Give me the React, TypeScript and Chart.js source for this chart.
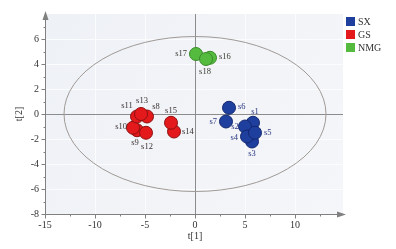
import React, { useEffect, useRef } from "react";
import { Chart, registerables } from "chart.js";

Chart.register(...registerables);

// ---- data ----
const sxNames = ["s1", "s2", "s3", "s4", "s5", "s6", "s7"];
const sxX = [5.8, 5.0, 5.7, 5.2, 6.0, 3.4, 3.1];
const sxY = [-0.7, -1.0, -2.2, -1.8, -1.5, 0.5, -0.6];

const gsNames = ["s8", "s9", "s10", "s11", "s12", "s13", "s14", "s15"];
const gsX = [-4.8, -5.8, -6.2, -5.8, -4.9, -5.4, -2.1, -2.4];
const gsY = [-0.2, -1.3, -1.1, -0.2, -1.5, 0.0, -1.4, -0.7];

const nmgNames = ["s16", "s17", "s18"];
const nmgX = [1.5, 0.1, 1.1];
const nmgY = [4.5, 4.8, 4.4];

const xTicks = [-15, -10, -5, 0, 5, 10];
const yTicks = [-8, -6, -4, -2, 0, 2, 4, 6];

const ellipseRx = 13.1;
const ellipseRy = 6.2;

// label offsets (px) per point name — style only
const labelOffset: Record<string, [number, number, CanvasTextAlign]> = {
  s1: [2, -11, "center"],
  s2: [-10, 0, "center"],
  s3: [0, 12, "center"],
  s4: [-9, 1, "right"],
  s5: [9, 0, "left"],
  s6: [9, -1, "left"],
  s7: [-9, 0, "right"],
  s8: [9, -10, "center"],
  s9: [-2, 13, "center"],
  s10: [-6, -1, "right"],
  s11: [-10, -11, "center"],
  s12: [1, 14, "center"],
  s13: [1, -13, "center"],
  s14: [8, 0, "left"],
  s15: [0, -12, "center"],
  s16: [9, -1, "left"],
  s17: [-9, 0, "right"],
  s18: [-1, 13, "center"],
};

const FONT = "'Liberation Serif', 'Times New Roman', serif";

const toPts = (xs: number[], ys: number[]) => xs.map((x, i) => ({ x, y: ys[i] }));

const bgPlugin = {
  id: "bgPlugin",
  beforeDatasetsDraw(chart: any) {
    const { ctx, chartArea: a, scales } = chart;
    const xs = scales.x;
    const ys = scales.y;
    ctx.save();
    const g = ctx.createLinearGradient(a.left, a.top, a.right, a.bottom);
    g.addColorStop(0, "#eef1f6");
    g.addColorStop(1, "#f5f6f9");
    ctx.fillStyle = g;
    ctx.fillRect(a.left, a.top, a.right - a.left, a.bottom - a.top);
    // grid
    ctx.strokeStyle = "#fbfcfd";
    ctx.lineWidth = 1;
    xTicks.forEach((v) => {
      if (v === 0 || v === -15) return;
      const px = Math.round(xs.getPixelForValue(v)) + 0.5;
      ctx.beginPath();
      ctx.moveTo(px, a.top);
      ctx.lineTo(px, a.bottom);
      ctx.stroke();
    });
    yTicks.forEach((v) => {
      if (v === 0 || v === -8) return;
      const py = Math.round(ys.getPixelForValue(v)) + 0.5;
      ctx.beginPath();
      ctx.moveTo(a.left, py);
      ctx.lineTo(a.right, py);
      ctx.stroke();
    });
    // zero lines
    ctx.strokeStyle = "#8c8c8c";
    const x0 = Math.round(xs.getPixelForValue(0)) + 0.5;
    const y0 = Math.round(ys.getPixelForValue(0)) + 0.5;
    ctx.beginPath();
    ctx.moveTo(x0, a.top);
    ctx.lineTo(x0, a.bottom);
    ctx.moveTo(a.left, y0);
    ctx.lineTo(a.right, y0);
    ctx.stroke();
    // ellipse
    const rx = xs.getPixelForValue(ellipseRx) - xs.getPixelForValue(0);
    const ry = ys.getPixelForValue(0) - ys.getPixelForValue(ellipseRy);
    ctx.strokeStyle = "#a09a96";
    ctx.beginPath();
    ctx.ellipse(xs.getPixelForValue(0), ys.getPixelForValue(0), rx, ry, 0, 0, Math.PI * 2);
    ctx.stroke();
    // axes with arrows
    ctx.strokeStyle = "#808080";
    ctx.fillStyle = "#808080";
    const L = Math.round(a.left) + 0.5;
    const B = Math.round(a.bottom) + 0.5;
    ctx.beginPath();
    ctx.moveTo(L, B);
    ctx.lineTo(L, a.top - 1);
    ctx.moveTo(L, B);
    ctx.lineTo(a.right + 1, B);
    ctx.stroke();
    ctx.beginPath();
    ctx.moveTo(L, a.top - 3);
    ctx.lineTo(L - 3, a.top + 6);
    ctx.lineTo(L + 3, a.top + 6);
    ctx.closePath();
    ctx.fill();
    ctx.beginPath();
    ctx.moveTo(a.right + 3, B);
    ctx.lineTo(a.right - 6, B - 3);
    ctx.lineTo(a.right - 6, B + 3);
    ctx.closePath();
    ctx.fill();
    // tick marks
    ctx.strokeStyle = "#808080";
    for (let v = -8; v <= 7; v++) {
      const py = Math.round(ys.getPixelForValue(v)) + 0.5;
      const len = v % 2 === 0 ? 4 : 2;
      ctx.beginPath();
      ctx.moveTo(L - len, py);
      ctx.lineTo(L, py);
      ctx.stroke();
    }
    for (let v = -15; v <= 12.5; v += 2.5) {
      const px = Math.round(xs.getPixelForValue(v)) + 0.5;
      const len = v % 5 === 0 ? 4 : 2;
      ctx.beginPath();
      ctx.moveTo(px, B);
      ctx.lineTo(px, B + len);
      ctx.stroke();
    }
    ctx.restore();
  },
  afterDatasetsDraw(chart: any) {
    const { ctx } = chart;
    ctx.save();
    ctx.font = `8.5px ${FONT}`;
    ctx.textBaseline = "middle";
    chart.data.datasets.forEach((ds: any, di: number) => {
      const meta = chart.getDatasetMeta(di);
      meta.data.forEach((el: any, i: number) => {
        const name = ds.names[i];
        const off = labelOffset[name] || [8, 0, "left"];
        ctx.fillStyle = ds.labelColor;
        ctx.textAlign = off[2];
        ctx.fillText(name, el.x + off[0], el.y + off[1]);
      });
    });
    // legend
    const a = chart.chartArea;
    const lx = a.right + 3;
    let ly = 17;
    ctx.font = `10px ${FONT}`;
    ctx.textAlign = "left";
    chart.data.datasets.forEach((ds: any) => {
      ctx.fillStyle = ds.backgroundColor;
      ctx.fillRect(lx, ly, 9, 9);
      ctx.fillStyle = "#333";
      ctx.fillText(ds.label, lx + 12, ly + 5);
      ly += 13;
    });
    // axis titles
    ctx.font = `10px ${FONT}`;
    ctx.fillStyle = "#333";
    ctx.textAlign = "center";
    ctx.fillText("t[1]", chart.scales.x.getPixelForValue(0), 236);
    ctx.translate(19, chart.scales.y.getPixelForValue(0));
    ctx.rotate(-Math.PI / 2);
    ctx.fillText("t[2]", 0, 0);
    ctx.restore();
  },
};

export default function App() {
  const ref = useRef<HTMLCanvasElement | null>(null);
  useEffect(() => {
    if (!ref.current) return;
    const mk = (label: string, names: string[], xs: number[], ys: number[], fill: string, border: string, labelColor: string) => ({
      label,
      names,
      labelColor,
      data: toPts(xs, ys),
      backgroundColor: fill,
      borderColor: border,
      borderWidth: 1,
      pointRadius: 6.5,
    });
    const chart = new Chart(ref.current, {
      type: "scatter",
      data: {
        datasets: [
          mk("SX", sxNames, sxX, sxY, "#1f3f9f", "#13276e", "#2a3580"),
          mk("GS", gsNames, gsX, gsY, "#e3191c", "#8e1010", "#3a3030"),
          mk("NMG", nmgNames, nmgX, nmgY, "#55bb3e", "#3a8a2a", "#3a3a30"),
        ] as any,
      },
      options: {
        animation: false,
        responsive: true,
        maintainAspectRatio: false,
        layout: { padding: { left: 0, right: 53, top: 14, bottom: 0 } },
        plugins: { legend: { display: false }, tooltip: { enabled: false } },
        scales: {
          x: {
            type: "linear",
            min: -15,
            max: 14.8,
            afterFit: (s: any) => {
              s.height = 35;
            },
            afterBuildTicks: (s: any) => {
              s.ticks = xTicks.map((v) => ({ value: v }));
            },
            grid: { display: false, drawTicks: false },
            border: { display: false },
            ticks: { padding: 5, color: "#333", font: { family: FONT, size: 10 }, maxRotation: 0 },
          },
          y: {
            type: "linear",
            min: -8,
            max: 8,
            afterFit: (s: any) => {
              s.width = 45;
            },
            afterBuildTicks: (s: any) => {
              s.ticks = yTicks.map((v) => ({ value: v }));
            },
            grid: { display: false, drawTicks: false },
            border: { display: false },
            ticks: { padding: 6, color: "#333", font: { family: FONT, size: 10 } },
          },
        },
      },
      plugins: [bgPlugin],
    });
    return () => chart.destroy();
  }, []);
  return (
    <div style={{ position: "fixed", left: 0, top: 0, width: 396, height: 249, background: "#fff" }}>
      <canvas ref={ref} />
    </div>
  );
}
